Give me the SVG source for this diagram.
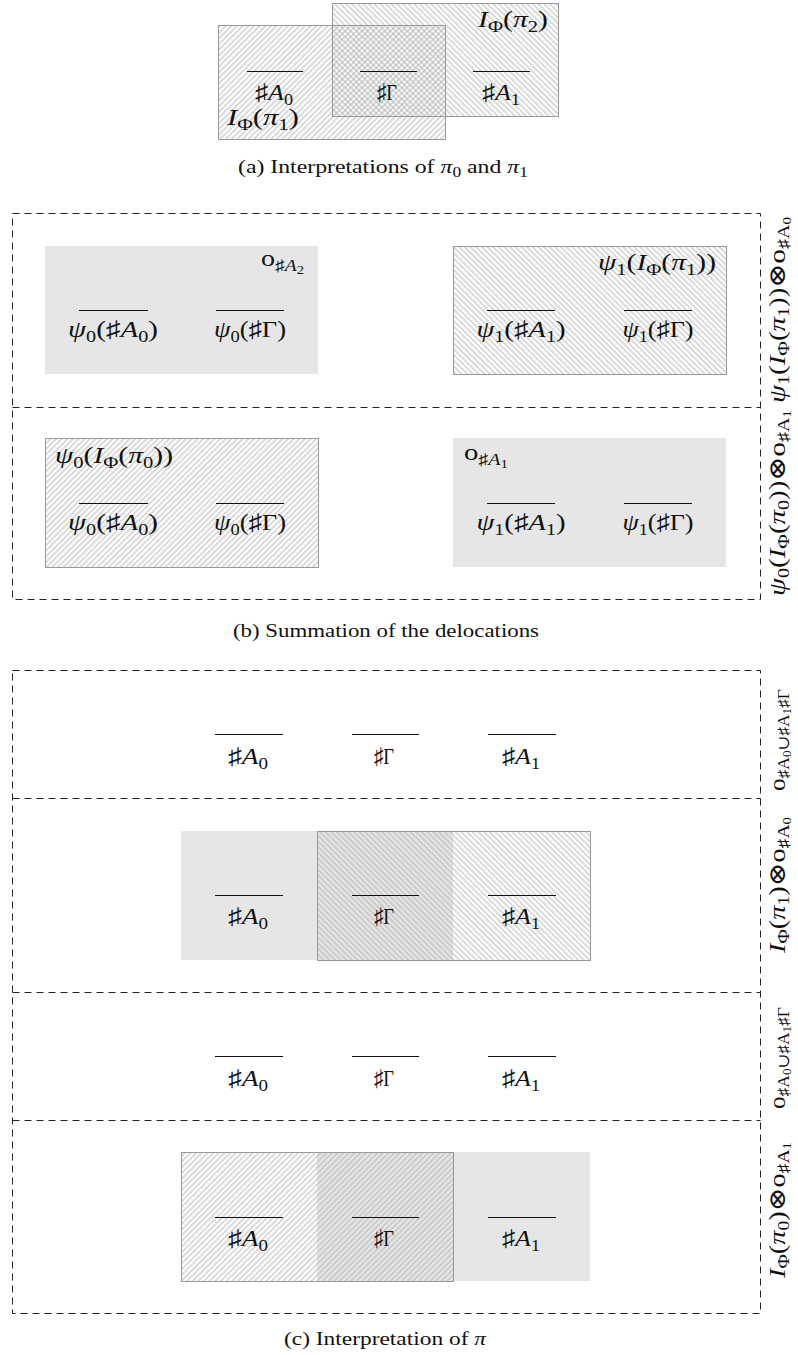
<svg xmlns="http://www.w3.org/2000/svg" width="798" height="1355" viewBox="0 0 798 1355">
<defs>
  <!-- diagonal hatching: "/" and "\" -->
  <pattern id="hatchF" patternUnits="userSpaceOnUse" width="4" height="4" patternTransform="rotate(45)">
    <line x1="2" y1="0" x2="2" y2="4" stroke="#a8a8a8" stroke-width="0.85"/>
  </pattern>
  <pattern id="hatchB" patternUnits="userSpaceOnUse" width="4" height="4" patternTransform="rotate(-45)">
    <line x1="2" y1="0" x2="2" y2="4" stroke="#a8a8a8" stroke-width="0.85"/>
  </pattern>
</defs>
<style>
  .m{font-family:"Liberation Serif","DejaVu Serif","DejaVu Sans",serif;font-size:23px;fill:#111}
  .it{font-style:italic}
  .s{font-size:16px}
  .ss{font-size:12px}
  .cap{font-family:"Liberation Serif","DejaVu Serif",serif;font-size:19px;fill:#111}
  .cs{font-size:14px}
  .bar{stroke:#111;stroke-width:1.1}
  .box{stroke:#999;stroke-width:1}
  .gray{fill:#e6e6e6}
  .dash{fill:none;stroke:#222;stroke-width:1;stroke-dasharray:7 5}
</style>
<rect width="798" height="1355" fill="#fff"/>

<!-- ===================== (a) ===================== -->
<g id="panel-a">
  <g id="a-interp-pi1">
    <rect x="218.5" y="25.5" width="227" height="114" fill="url(#hatchF)" class="box"/>
    <text class="m" x="227" y="125" textLength="72" lengthAdjust="spacingAndGlyphs"><tspan class="it">I</tspan><tspan class="s" dy="5">Φ</tspan><tspan dy="-5">(</tspan><tspan class="it">π</tspan><tspan class="s" dy="5">1</tspan><tspan dy="-5">)</tspan></text>
  </g>
  <g id="a-interp-pi2">
    <rect x="332.5" y="3.5" width="226" height="113" fill="url(#hatchB)" class="box"/>
    <text class="m" x="478" y="27" textLength="70" lengthAdjust="spacingAndGlyphs"><tspan class="it">I</tspan><tspan class="s" dy="5">Φ</tspan><tspan dy="-5">(</tspan><tspan class="it">π</tspan><tspan class="s" dy="5">2</tspan><tspan dy="-5">)</tspan></text>
  </g>
  <g id="a-atoms">
    <line class="bar" x1="247" y1="71.5" x2="303" y2="71.5"/>
    <line class="bar" x1="360" y1="71.5" x2="417" y2="71.5"/>
    <line class="bar" x1="473" y1="71.5" x2="530" y2="71.5"/>
    <text class="m" x="274" y="100" text-anchor="middle" textLength="38" lengthAdjust="spacingAndGlyphs">♯<tspan class="it">A</tspan><tspan class="s" dy="5">0</tspan></text>
    <text class="m" x="387" y="100" text-anchor="middle" textLength="20" lengthAdjust="spacingAndGlyphs">♯Γ</text>
    <text class="m" x="501" y="100" text-anchor="middle" textLength="38" lengthAdjust="spacingAndGlyphs">♯<tspan class="it">A</tspan><tspan class="s" dy="5">1</tspan></text>
  </g>
  <text class="cap" x="238" y="173" textLength="290" lengthAdjust="spacingAndGlyphs">(a)  Interpretations of <tspan class="it">π</tspan><tspan class="cs" dy="4">0</tspan><tspan dy="-4"> and </tspan><tspan class="it">π</tspan><tspan class="cs" dy="4">1</tspan></text>
</g>

<!-- ===================== (b) ===================== -->
<g id="panel-b">
  <g id="b-frame">
    <rect class="dash" x="12.5" y="213.5" width="748" height="386"/>
    <line class="dash" x1="12.5" y1="407.5" x2="760.5" y2="407.5"/>
  </g>

  <g id="b-top-left">
    <rect class="gray" x="45" y="246" width="273" height="128"/>
    <text class="m" x="261" y="266" textLength="43" lengthAdjust="spacingAndGlyphs">o<tspan class="s" dy="5">♯<tspan class="it">A</tspan></tspan><tspan class="ss" dy="3">2</tspan></text>
    <line class="bar" x1="79" y1="310.5" x2="148" y2="310.5"/>
    <line class="bar" x1="216" y1="310.5" x2="284" y2="310.5"/>
    <text class="m" x="113" y="337" text-anchor="middle" textLength="90" lengthAdjust="spacingAndGlyphs"><tspan class="it">ψ</tspan><tspan class="s" dy="5">0</tspan><tspan dy="-5">(♯</tspan><tspan class="it">A</tspan><tspan class="s" dy="5">0</tspan><tspan dy="-5">)</tspan></text>
    <text class="m" x="250" y="337" text-anchor="middle" textLength="72" lengthAdjust="spacingAndGlyphs"><tspan class="it">ψ</tspan><tspan class="s" dy="5">0</tspan><tspan dy="-5">(♯Γ)</tspan></text>
  </g>

  <g id="b-top-right">
    <rect x="453.5" y="246.5" width="273" height="128" fill="url(#hatchB)" class="box"/>
    <text class="m" x="598" y="270" textLength="118" lengthAdjust="spacingAndGlyphs"><tspan class="it">ψ</tspan><tspan class="s" dy="5">1</tspan><tspan dy="-5">(</tspan><tspan class="it">I</tspan><tspan class="s" dy="5">Φ</tspan><tspan dy="-5">(</tspan><tspan class="it">π</tspan><tspan class="s" dy="5">1</tspan><tspan dy="-5">))</tspan></text>
    <line class="bar" x1="487" y1="310.5" x2="555" y2="310.5"/>
    <line class="bar" x1="624" y1="310.5" x2="692" y2="310.5"/>
    <text class="m" x="521" y="337" text-anchor="middle" textLength="89" lengthAdjust="spacingAndGlyphs"><tspan class="it">ψ</tspan><tspan class="s" dy="5">1</tspan><tspan dy="-5">(♯</tspan><tspan class="it">A</tspan><tspan class="s" dy="5">1</tspan><tspan dy="-5">)</tspan></text>
    <text class="m" x="658" y="337" text-anchor="middle" textLength="71" lengthAdjust="spacingAndGlyphs"><tspan class="it">ψ</tspan><tspan class="s" dy="5">1</tspan><tspan dy="-5">(♯Γ)</tspan></text>
  </g>

  <g id="b-bottom-left">
    <rect x="45.5" y="438.5" width="273" height="129" fill="url(#hatchF)" class="box"/>
    <text class="m" x="55" y="463" textLength="118" lengthAdjust="spacingAndGlyphs"><tspan class="it">ψ</tspan><tspan class="s" dy="5">0</tspan><tspan dy="-5">(</tspan><tspan class="it">I</tspan><tspan class="s" dy="5">Φ</tspan><tspan dy="-5">(</tspan><tspan class="it">π</tspan><tspan class="s" dy="5">0</tspan><tspan dy="-5">))</tspan></text>
    <line class="bar" x1="79" y1="503.5" x2="148" y2="503.5"/>
    <line class="bar" x1="216" y1="503.5" x2="284" y2="503.5"/>
    <text class="m" x="113" y="530" text-anchor="middle" textLength="90" lengthAdjust="spacingAndGlyphs"><tspan class="it">ψ</tspan><tspan class="s" dy="5">0</tspan><tspan dy="-5">(♯</tspan><tspan class="it">A</tspan><tspan class="s" dy="5">0</tspan><tspan dy="-5">)</tspan></text>
    <text class="m" x="250" y="530" text-anchor="middle" textLength="72" lengthAdjust="spacingAndGlyphs"><tspan class="it">ψ</tspan><tspan class="s" dy="5">0</tspan><tspan dy="-5">(♯Γ)</tspan></text>
  </g>

  <g id="b-bottom-right">
    <rect class="gray" x="453" y="438" width="273" height="129"/>
    <text class="m" x="464" y="460" textLength="44" lengthAdjust="spacingAndGlyphs">o<tspan class="s" dy="5">♯<tspan class="it">A</tspan></tspan><tspan class="ss" dy="3">1</tspan></text>
    <line class="bar" x1="487" y1="503.5" x2="555" y2="503.5"/>
    <line class="bar" x1="624" y1="503.5" x2="692" y2="503.5"/>
    <text class="m" x="521" y="530" text-anchor="middle" textLength="89" lengthAdjust="spacingAndGlyphs"><tspan class="it">ψ</tspan><tspan class="s" dy="5">1</tspan><tspan dy="-5">(♯</tspan><tspan class="it">A</tspan><tspan class="s" dy="5">1</tspan><tspan dy="-5">)</tspan></text>
    <text class="m" x="658" y="530" text-anchor="middle" textLength="71" lengthAdjust="spacingAndGlyphs"><tspan class="it">ψ</tspan><tspan class="s" dy="5">1</tspan><tspan dy="-5">(♯Γ)</tspan></text>
  </g>

  <g id="b-row-labels">
    <text class="m" transform="translate(785,310) rotate(-90)" text-anchor="middle" textLength="186" lengthAdjust="spacingAndGlyphs"><tspan class="it">ψ</tspan><tspan class="s" dy="4">1</tspan><tspan dy="-4">(</tspan><tspan class="it">I</tspan><tspan class="s" dy="4">Φ</tspan><tspan dy="-4">(</tspan><tspan class="it">π</tspan><tspan class="s" dy="4">1</tspan><tspan dy="-4">))⊗o</tspan><tspan class="s" dy="4">♯A</tspan><tspan class="ss" dy="2">0</tspan></text>
    <text class="m" transform="translate(785,503) rotate(-90)" text-anchor="middle" textLength="186" lengthAdjust="spacingAndGlyphs"><tspan class="it">ψ</tspan><tspan class="s" dy="4">0</tspan><tspan dy="-4">(</tspan><tspan class="it">I</tspan><tspan class="s" dy="4">Φ</tspan><tspan dy="-4">(</tspan><tspan class="it">π</tspan><tspan class="s" dy="4">0</tspan><tspan dy="-4">))⊗o</tspan><tspan class="s" dy="4">♯A</tspan><tspan class="ss" dy="2">1</tspan></text>
  </g>

  <text class="cap" x="233" y="637" textLength="306" lengthAdjust="spacingAndGlyphs">(b)  Summation of the delocations</text>
</g>

<!-- ===================== (c) ===================== -->
<g id="panel-c">
  <g id="c-frame">
    <rect class="dash" x="12.5" y="670.5" width="748" height="643"/>
    <line class="dash" x1="12.5" y1="798.5" x2="760.5" y2="798.5"/>
    <line class="dash" x1="12.5" y1="992.5" x2="760.5" y2="992.5"/>
    <line class="dash" x1="12.5" y1="1120.5" x2="760.5" y2="1120.5"/>
  </g>

  <!-- row 1 -->
  <g id="c-row1">
    <line class="bar" x1="215" y1="734.5" x2="283" y2="734.5"/>
    <line class="bar" x1="352" y1="734.5" x2="419" y2="734.5"/>
    <line class="bar" x1="488" y1="734.5" x2="556" y2="734.5"/>
    <text class="m" x="248" y="764" text-anchor="middle" textLength="40" lengthAdjust="spacingAndGlyphs">♯<tspan class="it">A</tspan><tspan class="s" dy="5">0</tspan></text>
    <text class="m" x="384" y="764" text-anchor="middle" textLength="20" lengthAdjust="spacingAndGlyphs">♯Γ</text>
    <text class="m" x="521" y="764" text-anchor="middle" textLength="38" lengthAdjust="spacingAndGlyphs">♯<tspan class="it">A</tspan><tspan class="s" dy="5">1</tspan></text>
    <text class="m" transform="translate(785,740) rotate(-90)" text-anchor="middle" textLength="102" lengthAdjust="spacingAndGlyphs">o<tspan class="s" dy="4">♯A</tspan><tspan class="ss" dy="2">0</tspan><tspan class="s" dy="-2">∪♯A</tspan><tspan class="ss" dy="2">1</tspan><tspan class="s" dy="-2">♯Γ</tspan></text>
  </g>

  <!-- row 2 -->
  <g id="c-row2">
    <rect class="gray" x="181" y="831" width="272" height="129"/>
    <rect x="317.5" y="831.5" width="273" height="129" fill="url(#hatchB)" class="box"/>
    <line class="bar" x1="215" y1="895.5" x2="283" y2="895.5"/>
    <line class="bar" x1="352" y1="895.5" x2="419" y2="895.5"/>
    <line class="bar" x1="488" y1="895.5" x2="556" y2="895.5"/>
    <text class="m" x="248" y="924" text-anchor="middle" textLength="40" lengthAdjust="spacingAndGlyphs">♯<tspan class="it">A</tspan><tspan class="s" dy="5">0</tspan></text>
    <text class="m" x="384" y="924" text-anchor="middle" textLength="20" lengthAdjust="spacingAndGlyphs">♯Γ</text>
    <text class="m" x="521" y="924" text-anchor="middle" textLength="38" lengthAdjust="spacingAndGlyphs">♯<tspan class="it">A</tspan><tspan class="s" dy="5">1</tspan></text>
    <text class="m" transform="translate(785,885) rotate(-90)" text-anchor="middle" textLength="136" lengthAdjust="spacingAndGlyphs"><tspan class="it">I</tspan><tspan class="s" dy="4">Φ</tspan><tspan dy="-4">(</tspan><tspan class="it">π</tspan><tspan class="s" dy="4">1</tspan><tspan dy="-4">)⊗o</tspan><tspan class="s" dy="4">♯A</tspan><tspan class="ss" dy="2">0</tspan></text>
  </g>

  <!-- row 3 -->
  <g id="c-row3">
    <line class="bar" x1="215" y1="1056.5" x2="283" y2="1056.5"/>
    <line class="bar" x1="352" y1="1056.5" x2="419" y2="1056.5"/>
    <line class="bar" x1="488" y1="1056.5" x2="556" y2="1056.5"/>
    <text class="m" x="248" y="1086" text-anchor="middle" textLength="40" lengthAdjust="spacingAndGlyphs">♯<tspan class="it">A</tspan><tspan class="s" dy="5">0</tspan></text>
    <text class="m" x="384" y="1086" text-anchor="middle" textLength="20" lengthAdjust="spacingAndGlyphs">♯Γ</text>
    <text class="m" x="521" y="1086" text-anchor="middle" textLength="38" lengthAdjust="spacingAndGlyphs">♯<tspan class="it">A</tspan><tspan class="s" dy="5">1</tspan></text>
    <text class="m" transform="translate(785,1058) rotate(-90)" text-anchor="middle" textLength="102" lengthAdjust="spacingAndGlyphs">o<tspan class="s" dy="4">♯A</tspan><tspan class="ss" dy="2">0</tspan><tspan class="s" dy="-2">∪♯A</tspan><tspan class="ss" dy="2">1</tspan><tspan class="s" dy="-2">♯Γ</tspan></text>
  </g>

  <!-- row 4 -->
  <g id="c-row4">
    <rect class="gray" x="317" y="1152" width="273" height="129"/>
    <rect x="181.5" y="1152.5" width="272" height="129" fill="url(#hatchF)" class="box"/>
    <line class="bar" x1="215" y1="1217.5" x2="283" y2="1217.5"/>
    <line class="bar" x1="352" y1="1217.5" x2="419" y2="1217.5"/>
    <line class="bar" x1="488" y1="1217.5" x2="556" y2="1217.5"/>
    <text class="m" x="248" y="1246" text-anchor="middle" textLength="40" lengthAdjust="spacingAndGlyphs">♯<tspan class="it">A</tspan><tspan class="s" dy="5">0</tspan></text>
    <text class="m" x="384" y="1246" text-anchor="middle" textLength="20" lengthAdjust="spacingAndGlyphs">♯Γ</text>
    <text class="m" x="521" y="1246" text-anchor="middle" textLength="38" lengthAdjust="spacingAndGlyphs">♯<tspan class="it">A</tspan><tspan class="s" dy="5">1</tspan></text>
    <text class="m" transform="translate(785,1210) rotate(-90)" text-anchor="middle" textLength="136" lengthAdjust="spacingAndGlyphs"><tspan class="it">I</tspan><tspan class="s" dy="4">Φ</tspan><tspan dy="-4">(</tspan><tspan class="it">π</tspan><tspan class="s" dy="4">0</tspan><tspan dy="-4">)⊗o</tspan><tspan class="s" dy="4">♯A</tspan><tspan class="ss" dy="2">1</tspan></text>
  </g>

  <text class="cap" x="284" y="1345" textLength="202" lengthAdjust="spacingAndGlyphs">(c)  Interpretation of <tspan class="it">π</tspan></text>
</g>
</svg>
